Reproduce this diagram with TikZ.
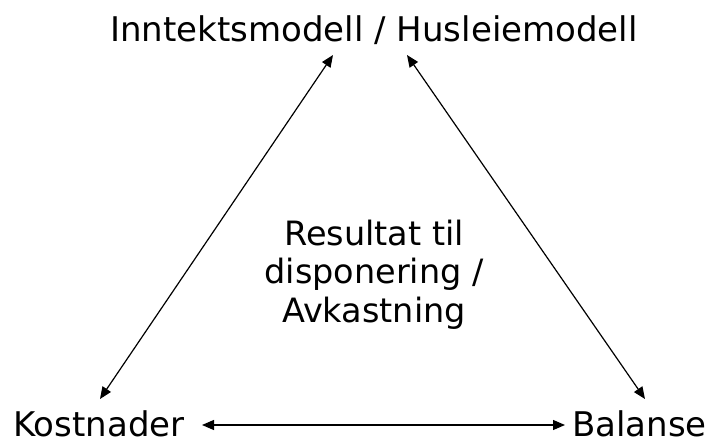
\documentclass[tikz,border=0pt]{standalone}
\usepackage{fontspec}
\setmainfont{DejaVu Sans}
\usetikzlibrary{arrows.meta}
\begin{document}
\begin{tikzpicture}[x=1pt,y=-1pt,
  label/.style={inner sep=0pt, font=\fontsize{34}{38}\selectfont, text=black},
  mid/.style={inner sep=0pt, align=center, font=\fontsize{33.5}{38.5}\selectfont},
  link/.style={line width=1.2pt, {Triangle[length=12pt,width=10pt]}-{Triangle[length=12pt,width=10pt]}}]
  \useasboundingbox (0,0) rectangle (709,441);
  % corner labels
  \node[label, anchor=base] (top) at (374,42) {Inntektsmodell / Husleiemodell};
  \node[label, anchor=base west] (kost) at (13,436) {Kostnader};
  \node[label, anchor=base east] (bal) at (707,436) {Balanse};
  % centre text (base anchor sits on the last line)
  \node[mid, anchor=base] (res) at (374,322) {Resultat til\\disponering /\\Avkastning};
  % arrow end points
  \coordinate (tl) at (333,55);
  \coordinate (tr) at (407,55);
  \coordinate (bl) at (100,399);
  \coordinate (br) at (645,399);
  \coordinate (kl) at (202,425);
  \coordinate (bll) at (565,425);
  % connectors
  \draw[link] (bl) -- (tl);
  \draw[link] (tr) -- (br);
  \draw[link] (kl) -- (bll);
\end{tikzpicture}
\end{document}
